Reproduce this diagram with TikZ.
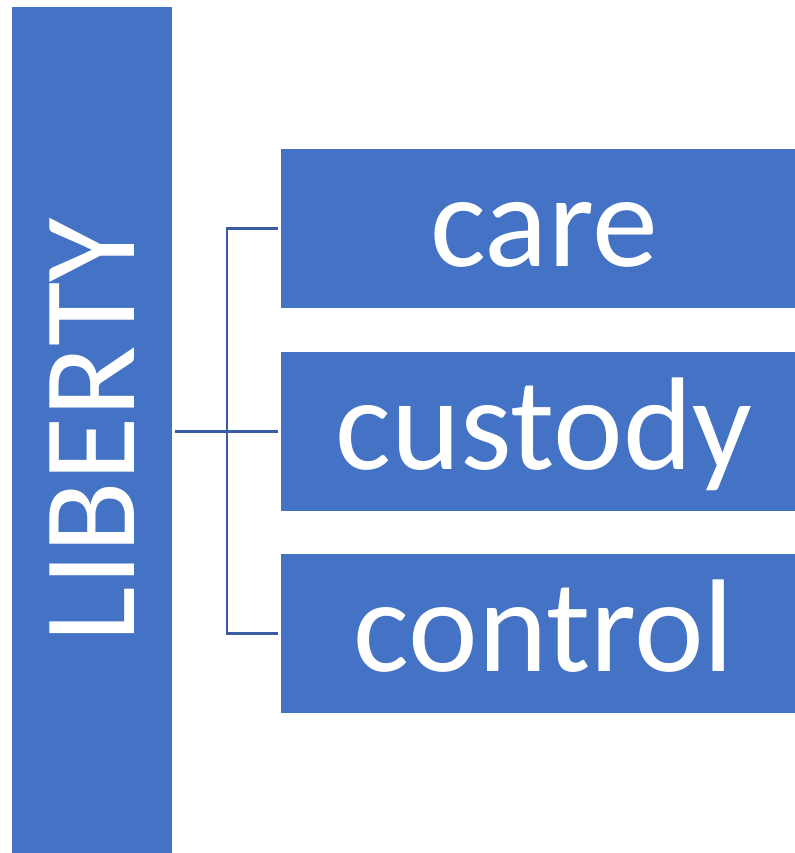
\documentclass[tikz,border=0pt]{standalone}
\usepackage{fontspec}
\setmainfont{Carlito}
\usetikzlibrary{calc}
\definecolor{boxblue}{HTML}{4472C4}
\definecolor{linkblue}{RGB}{58,92,164}

\begin{document}
\begin{tikzpicture}
	[x=0.75pt,y=-0.75pt,
		bar node/.style={fill=boxblue,text=white,inner sep=0pt,minimum width=120pt,minimum height=634.5pt,font=\fontsize{99}{99}\selectfont},
		item node/.style={fill=boxblue,text=white,inner sep=0pt,minimum width=394.5pt,minimum height=119.25pt,text height=57pt,text depth=0pt,font=\fontsize{99}{99}\selectfont},
		link/.style={draw=linkblue,line width=1.8pt,shorten >=2.25pt,shorten <=2.25pt}]

	\useasboundingbox (0,0) rectangle (795,853);

	\node[bar node] (liberty) at (92,430) {\rotatebox{90}{LIBERTY}};
	% boxes run past the right edge
	\node[item node] (care)    at (544,228.5) {care};
	\node[item node] (custody) at (544,431.5) {custody};
	\node[item node] (control) at (544,633.5) {control};
	\coordinate (spine) at (226.7,431);

	\draw[link] (liberty.east |- custody.west) -- (custody.west);
	\draw[link] (care.west) -| (spine) |- (control.west);

\end{tikzpicture}
\end{document}
